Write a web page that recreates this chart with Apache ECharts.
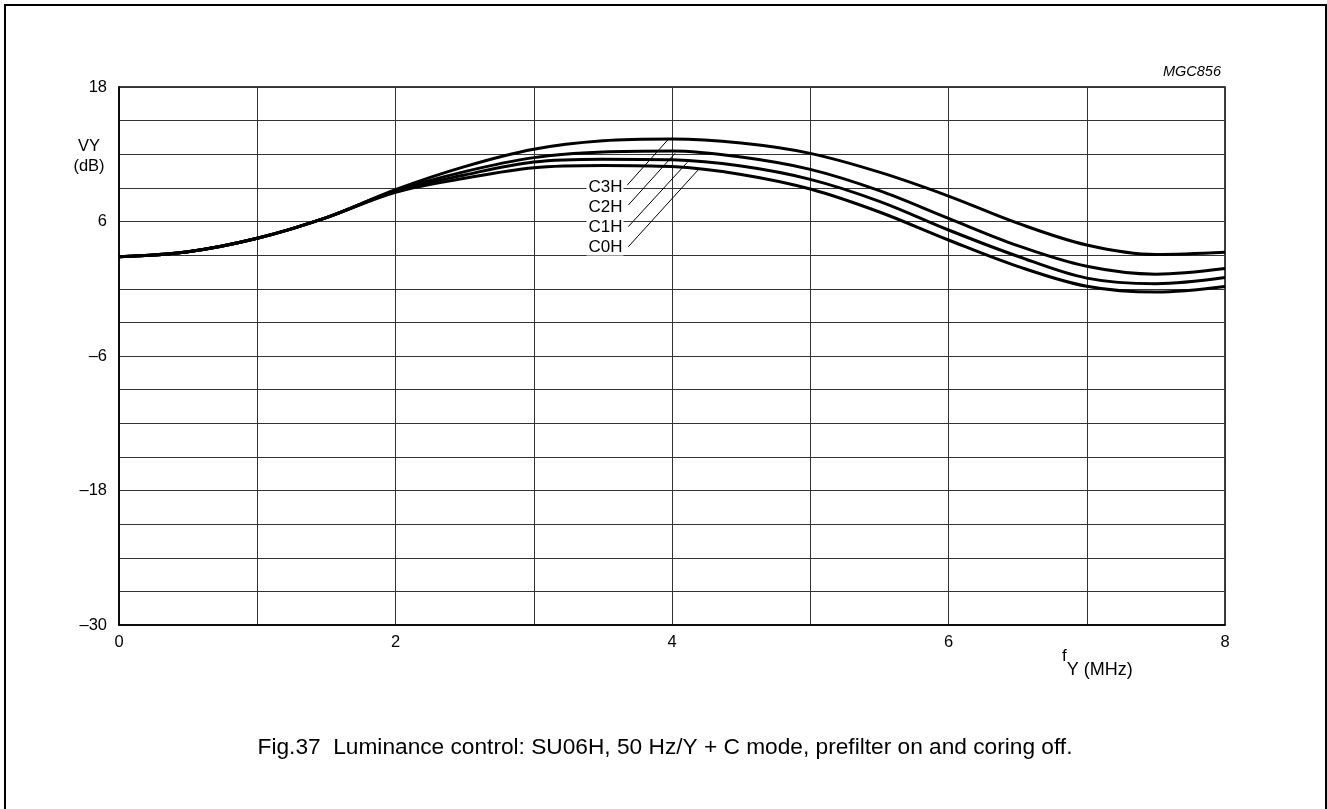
<!DOCTYPE html>
<html>
<head>
<meta charset="utf-8">
<script src="https://cdn.jsdelivr.net/npm/echarts@6/dist/echarts.min.js"></script>
<style>
html,body{margin:0;padding:0;background:#fff;}
#chart{width:1327px;height:809px;}
</style>
</head>
<body>
<div id="chart"></div>
<script>
// Frequency points (MHz)
const freq = [0, 0.5, 1, 1.5, 2, 2.5, 3, 3.5, 4, 4.5, 5, 5.5, 6, 6.5, 7, 7.5, 8];
// VY (dB) per curve
const c3h = [2.85, 3.3, 4.5, 6.35, 8.85, 10.9, 12.45, 13.2, 13.36, 13.0, 12.08, 10.4, 8.27, 5.85, 3.9, 3.05, 3.25];
const c2h = [2.85, 3.3, 4.5, 6.35, 8.75, 10.45, 11.7, 12.2, 12.29, 11.75, 10.65, 8.75, 6.28, 3.85, 2.0, 1.3, 1.8];
const c1h = [2.85, 3.3, 4.5, 6.35, 8.7, 10.15, 11.3, 11.55, 11.5, 10.95, 9.76, 7.8, 5.24, 2.9, 0.95, 0.45, 1.0];
const c0h = [2.85, 3.3, 4.5, 6.35, 8.6, 9.85, 10.8, 11.0, 10.9, 10.2, 8.9, 6.85, 4.35, 2.0, 0.22, -0.3, 0.2];
const seriesNames = ['C3H', 'C2H', 'C1H', 'C0H'];
// Annotation label anchors and leader lines, in data coords
const labelAnchors = [[3.66, 9.08], [3.66, 7.29], [3.66, 5.51], [3.66, 3.72]];
const leaderStarts = [[3.677, 9.26], [3.684, 7.47], [3.684, 5.54], [3.684, 3.75]];
const leaderEnds = [[3.973, 13.33], [4.022, 12.08], [4.111, 11.28], [4.2, 10.75]];
// Axis ticks
const xTicks = [0, 2, 4, 6, 8];
const yTicks = [18, 6, -6, -18, -30];

const FONT = '"Liberation Sans", Arial, sans-serif';
const curves = [c3h, c2h, c1h, c0h];

const chart = echarts.init(document.getElementById('chart'), null, {renderer: 'canvas'});

const series = curves.map((vals, i) => ({
  name: seriesNames[i],
  type: 'line',
  data: freq.map((f, k) => [f, vals[k]]),
  smooth: 0.35,
  showSymbol: false,
  symbol: 'none',
  lineStyle: {color: '#000', width: 3},
  z: 5,
  silent: true,
  markLine: {
    silent: true,
    symbol: 'none',
    label: {show: false},
    lineStyle: {color: '#000', width: 1, type: 'solid'},
    data: [[{coord: leaderStarts[i]}, {coord: leaderEnds[i]}]]
  },
  markPoint: {
    silent: true,
    symbol: 'circle',
    symbolSize: 1,
    itemStyle: {color: 'rgba(0,0,0,0)'},
    label: {
      show: true,
      position: 'left',
      distance: 1,
      formatter: seriesNames[i],
      color: '#000',
      fontFamily: FONT,
      fontSize: 17,
      backgroundColor: '#fff',
      padding: [0, 1, 0, 2]
    },
    data: [{coord: labelAnchors[i]}]
  }
}));

const option = {
  backgroundColor: '#fff',
  animation: false,
  grid: {left: 119, top: 87, right: 102, bottom: 184, show: true, borderColor: '#000', borderWidth: 1.5, backgroundColor: 'transparent'},
  xAxis: {
    type: 'value', min: 0, max: 8, interval: 1,
    axisLine: {show: true, onZero: false, lineStyle: {color: '#000', width: 1.5}},
    axisTick: {show: false},
    splitLine: {show: true, lineStyle: {color: '#333', width: 1}},
    axisLabel: {
      color: '#000', fontFamily: FONT, fontSize: 16.5, margin: 9,
      formatter: v => xTicks.includes(v) ? String(v) : ''
    }
  },
  yAxis: {
    type: 'value', min: -30, max: 18, interval: 3,
    axisLine: {show: true, onZero: false, lineStyle: {color: '#000', width: 1.5}},
    axisTick: {show: false},
    splitLine: {show: true, lineStyle: {color: '#333', width: 1}},
    axisLabel: {
      color: '#000', fontFamily: FONT, fontSize: 16.5, margin: 12,
      formatter: v => yTicks.includes(v) ? (v < 0 ? '\u2013' + (-v) : String(v)) : ''
    }
  },
  series: series,
  graphic: [
    {type: 'rect', shape: {x: 5, y: 5, width: 1321, height: 820}, style: {fill: 'none', stroke: '#000', lineWidth: 2}, silent: true},
    {type: 'text', x: 1221, y: 72, style: {text: 'MGC856', font: 'italic 14.5px ' + FONT, fill: '#000', align: 'right', verticalAlign: 'middle'}},
    {type: 'text', x: 89, y: 146, style: {text: 'VY', font: '16.5px ' + FONT, fill: '#000', align: 'center', verticalAlign: 'middle'}},
    {type: 'text', x: 89, y: 166, style: {text: '(dB)', font: '16.5px ' + FONT, fill: '#000', align: 'center', verticalAlign: 'middle'}},
    {type: 'text', x: 1062, y: 648, style: {
      text: '{f|f}{s|Y (MHz)}', fill: '#000',
      rich: {f: {fontFamily: FONT, fontSize: 17, verticalAlign: 'top'}, s: {fontFamily: FONT, fontSize: 18, padding: [13, 0, 0, 0]}}
    }},
    {type: 'text', x: 665, y: 748, style: {text: 'Fig.37  Luminance control: SU06H, 50 Hz/Y + C mode, prefilter on and coring off.', font: '22.7px ' + FONT, fill: '#000', align: 'center', verticalAlign: 'middle'}}
  ]
};
chart.setOption(option);
</script>
</body>
</html>
